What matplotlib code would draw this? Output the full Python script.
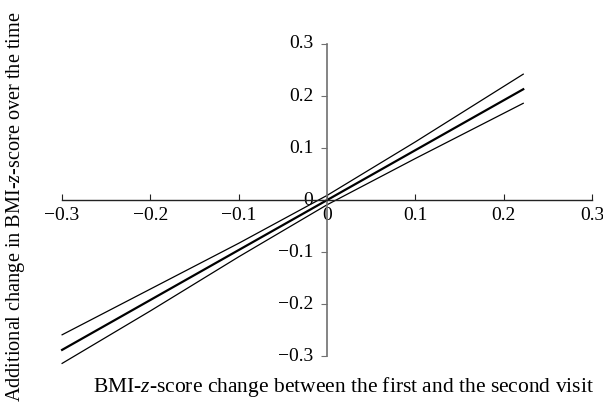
import matplotlib
matplotlib.use("Agg")
from matplotlib import pyplot as plt

# data
x_vals = [-0.3, -0.2, -0.1, 0.0, 0.1, 0.222]
mid_vals = [-0.288, -0.192, -0.096, 0.0, 0.096, 0.213]
upper_vals = [-0.259, -0.171, -0.083, 0.009, 0.112, 0.242]
lower_vals = [-0.314, -0.213, -0.109, -0.009, 0.080, 0.186]

ticks = [-0.3, -0.2, -0.1, 0.0, 0.1, 0.2, 0.3]
tick_labels = ['\u22120.3', '\u22120.2', '\u22120.1', '0', '0.1', '0.2', '0.3']

plt.rcParams['font.family'] = ['Liberation Serif', 'DejaVu Serif']
plt.rcParams['mathtext.fontset'] = 'custom'
plt.rcParams['mathtext.rm'] = 'Liberation Serif'
plt.rcParams['mathtext.it'] = 'Liberation Serif:italic'

fig = plt.figure(figsize=(6.03, 4.17), dpi=100)
ax = fig.add_axes([0.103, 0.146, 0.879, 0.7485])

ax.plot(x_vals, upper_vals, color='black', lw=0.9, clip_on=False)
ax.plot(x_vals, mid_vals, color='black', lw=1.6, clip_on=False)
ax.plot(x_vals, lower_vals, color='black', lw=0.9, clip_on=False)

ax.set_xlim(-0.3, 0.3)
ax.set_ylim(-0.3, 0.3)

for spine in ['top', 'right']:
    ax.spines[spine].set_visible(False)
for spine in ['bottom', 'left']:
    ax.spines[spine].set_position('zero')
ax.spines['bottom'].set_color('#222222')
ax.spines['left'].set_color('#707070')
ax.spines['bottom'].set_linewidth(1.0)
ax.spines['left'].set_linewidth(1.2)

ax.set_xticks(ticks)
ax.set_xticklabels(tick_labels)
ax.set_yticks(ticks)
ax.set_yticklabels(tick_labels)
ax.tick_params(axis='x', direction='in', length=4, width=0.8, color='#222222',
               labelsize=14, pad=5)
ax.tick_params(axis='y', direction='out', length=4, width=0.8, color='#707070',
               labelsize=14, pad=6)
for lab in ax.get_yticklabels():
    lab.set_verticalalignment('center')

fig.text(0.569, 0.072, r'BMI-$\it{z}$-score change between the first and the second visit',
         ha='center', va='center', fontsize=15.5)
fig.text(0.025, 0.505, r'Additional change in BMI-$\it{z}$-score over the time',
         ha='center', va='center', rotation=90, fontsize=14.6)

fig.savefig('out.png', dpi=100)
